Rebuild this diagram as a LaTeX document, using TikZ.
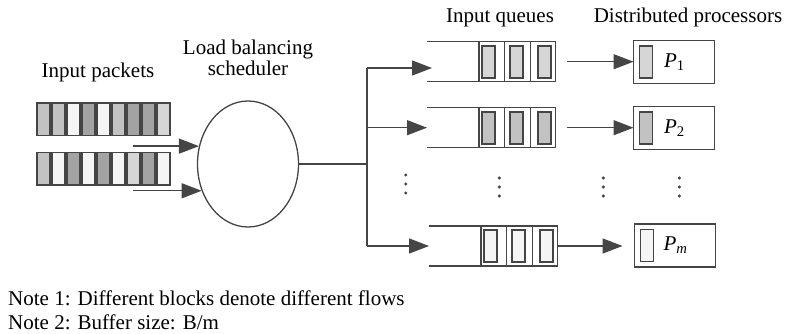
\documentclass[tikz,border=0pt]{standalone}
\usepackage{fontspec}
\setmainfont{Liberation Serif}
\usepackage{tikz}
\usetikzlibrary{calc}
\usetikzlibrary{positioning}
\usetikzlibrary{arrows.meta}
\usetikzlibrary{shapes.geometric}

\definecolor{linegray}{gray}{0.27}
\definecolor{dk}{gray}{0.64}
\definecolor{md}{gray}{0.76}
\definecolor{lt}{gray}{0.84}
\definecolor{wt}{gray}{0.96}

\begin{document}
\begin{tikzpicture}[x=1pt,y=-1pt,font=\fontsize{21}{21}\selectfont,
  >={Triangle[length=20pt,width=15pt]}]
\tikzstyle{pkt}=[rectangle,draw=linegray,line width=1.6pt,minimum width=13.2pt,minimum height=32.4pt,inner sep=0pt,outer sep=0pt]
\tikzstyle{cell}=[rectangle,draw=linegray,line width=1.2pt,minimum width=25.6pt,minimum height=40pt,inner sep=0pt,outer sep=0pt]
\tikzstyle{slot}=[rectangle,draw=linegray,line width=1.8pt,minimum width=13pt,minimum height=32pt,inner sep=0pt,outer sep=0pt]
\tikzstyle{proc}=[rectangle,draw=linegray,line width=1.3pt,minimum width=81pt,minimum height=43pt,inner sep=0pt,outer sep=0pt]
\tikzstyle{arr}=[draw=linegray,fill=linegray,line width=1.3pt,->]
\tikzstyle{wire}=[draw=linegray,line width=1.3pt]
\tikzstyle{label}=[align=center,inner sep=0pt]
\useasboundingbox (0,0) rectangle (787,334);

% titles
\node[label] at (98,72) (lblpkt) {Input packets};
\node[label] at (248,58) (lblsched) {Load balancing\\scheduler};
\node[label] at (500,18) (lblq) {Input queues};
\node[label] at (688,17) (lblproc) {Distributed processors};

% packets
\foreach \c [count=\i] in {md,md,wt,dk,wt,md,dk,dk,lt}
  \node[pkt,fill=\c] at (28.5+15*\i,119.5) (a\i) {};
\foreach \c [count=\i] in {md,wt,dk,wt,dk,wt,lt,dk,wt}
  \node[pkt,fill=\c] at (28.5+15*\i,168.7) (b\i) {};

% scheduler
\node[draw=linegray,line width=1.3pt,ellipse,minimum width=101pt,minimum height=126pt,inner sep=0pt] at (248,164) (sched) {};
\coordinate (src) at (133,0);
\draw[arr] (src |- sched.160) -- (sched.160);
\draw[arr] (src |- sched.210) -- (sched.210);

% queues
\foreach \n/\y/\dx/\c in {1/61.7/0/lt,2/127.7/0/md,m/246/2/wt} {
  \foreach \k [count=\j] in {a,b,c} {
    \node[cell] at (466.2+25.6*\j+\dx,\y) (q\n\k) {};
    \node[slot,fill=\c,anchor=west] at ($(q\n\k.west)+(0.3+2.5*\j,0)$) (s\n\k) {};
  }
  \draw[wire] (q\n a.north west) -- ++(-52,0);
  \draw[wire] (q\n a.south west) -- ++(-52,0);
}
\coordinate (bus) at (367,164);
\coordinate (qin1) at (432,68);
\coordinate (qin2) at (427,127.7);
\coordinate (qinm) at (429,246);
\draw[wire] (sched.east) -- (bus);
\draw[wire] (bus |- qin1) -- (bus |- qinm);
\foreach \q in {qin1,qin2,qinm}
  \draw[arr] (bus |- \q) -- (\q);

% processors
\node[proc] at (674,61.7) (p1) {\hspace*{1pt}\textit{P}\textsubscript{1}};
\node[proc] at (674,127.7) (p2) {\hspace*{1pt}\textit{P}\textsubscript{2}};
\node[proc] at (675,245.5) (pm) {\hspace*{1pt}\textit{P}\textsubscript{\textit{m}}};
\node[slot,fill=lt,anchor=west] at ($(p1.west)+(6,0)$) (ps1) {};
\node[slot,fill=md,anchor=west] at ($(p2.west)+(6,0)$) (ps2) {};
\node[slot,fill=wt,anchor=west] at ($(pm.west)+(6,0)$) (psm) {};
\draw[arr,shorten <=11pt] (q1c.east) -- (p1.west);
\draw[arr,shorten <=11pt] (q2c.east) -- (p2.west);
\draw[arr,shorten >=12pt] (qmc.east) -- (qmc.east -| pm.west);

% dots
\foreach \x/\y in {405.7/175,499.3/178,603.3/178,679.3/178}
  \foreach \d in {0,9,18}
    \fill[linegray] (\x,\y+\d) circle (1.7pt);

% notes
\node[label,anchor=west] at (8,298) (note1) {Note 1: Different blocks denote different flows};
\node[label,anchor=west] at (8,322) (note2) {Note 2: Buffer size: B/m};
\end{tikzpicture}
\end{document}
